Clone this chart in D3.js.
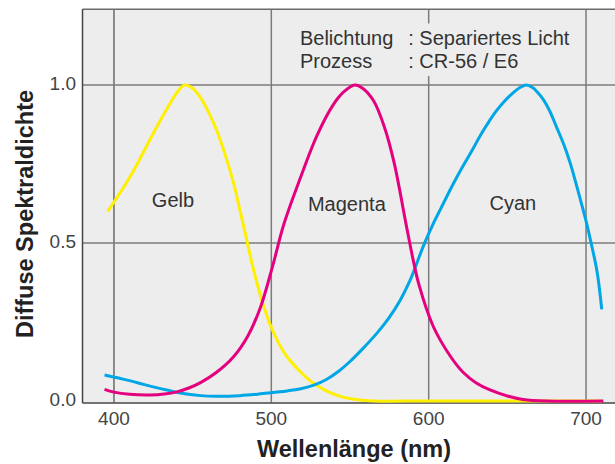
<!DOCTYPE html>
<html>
<head>
<meta charset="utf-8">
<script src="https://cdn.jsdelivr.net/npm/d3@7"></script>
<style>
  html, body { margin: 0; padding: 0; background: #fff; }
  svg { display: block; font-family: "Liberation Sans", Arial, Helvetica, sans-serif; }
</style>
</head>
<body>
<svg id="chart" width="615" height="464"></svg>
<script>
// Wavelength (nm) and diffuse spectral density for each dye layer
const gelbNm  = [396, 404, 412, 420, 428, 436, 441, 445, 450, 455, 460, 465, 470, 476, 480, 483, 488, 493, 499, 505, 510, 518, 525, 535, 545, 555, 565, 600, 650, 710];
const gelbVal = [0.60, 0.66, 0.725, 0.80, 0.875, 0.945, 0.983, 1.0, 0.99, 0.96, 0.915, 0.86, 0.79, 0.69, 0.605, 0.54, 0.43, 0.335, 0.245, 0.18, 0.14, 0.095, 0.063, 0.032, 0.013, 0.004, 0.0, 0.0, 0.0, 0.0];

const magentaNm  = [394, 400, 410, 423, 432, 440, 448, 455, 465, 476, 485, 493, 501, 508, 518, 529, 539, 546, 553, 558, 565, 572, 578, 586, 590, 594, 603, 614, 622, 630, 639, 650, 660, 675, 711];
const magentaVal = [0.037, 0.028, 0.021, 0.019, 0.022, 0.029, 0.042, 0.058, 0.09, 0.14, 0.205, 0.295, 0.43, 0.56, 0.70, 0.84, 0.935, 0.978, 1.0, 0.99, 0.95, 0.865, 0.755, 0.55, 0.45, 0.365, 0.235, 0.14, 0.09, 0.058, 0.035, 0.016, 0.005, 0.0, 0.0];

const cyanNm  = [394, 405, 415, 423, 435, 445, 455, 465, 480, 492, 501, 510, 518, 527, 535, 543, 550, 558, 567, 575, 582, 588, 592, 597, 603, 608, 612, 617, 622, 628, 633, 638, 643, 648, 654, 658, 662, 666, 669, 673, 677, 681, 686, 690, 693, 696, 700, 703, 707, 710];
const cyanVal = [0.082, 0.070, 0.058, 0.047, 0.033, 0.023, 0.017, 0.015, 0.017, 0.022, 0.027, 0.032, 0.038, 0.050, 0.068, 0.095, 0.125, 0.165, 0.214, 0.265, 0.32, 0.38, 0.43, 0.495, 0.562, 0.612, 0.652, 0.70, 0.745, 0.797, 0.842, 0.882, 0.918, 0.948, 0.977, 0.992, 1.0, 0.992, 0.978, 0.953, 0.917, 0.87, 0.81, 0.752, 0.70, 0.645, 0.57, 0.505, 0.41, 0.29];

const xTicks = [400, 500, 600, 700];
const yTicks = [0.0, 0.5, 1.0];
const seriesNames = ["Gelb", "Magenta", "Cyan"];
const infoKeys = ["Belichtung", "Prozess"];
const infoValues = [": Separiertes Licht", ": CR-56 / E6"];
const xTitle = "Wellenlänge (nm)";
const yTitle = "Diffuse Spektraldichte";

const colors = { Gelb: "#FFEF00", Magenta: "#E4007F", Cyan: "#00A6E6" };
// label anchor (nm, density) for each curve's name
const labelAt = { Gelb: [437.5, 0.614], Magenta: [548, 0.602], Cyan: [653.5, 0.604] };

const svg = d3.select("#chart");
const x = d3.scaleLinear().domain([380, 720]).range([82.5, 617.5]);
const y = d3.scaleLinear().domain([0, 1.24]).range([401, 9.2]);

const bg = "#ECEDEC";

// plot background
svg.append("rect")
  .attr("x", x(380)).attr("y", y(1.24))
  .attr("width", 615 - x(380)).attr("height", y(0) - y(1.24) + 1.5)
  .attr("fill", bg);

// vertical grid
svg.append("g").selectAll("line").data(xTicks).join("line")
  .attr("x1", d => x(d)).attr("x2", d => x(d))
  .attr("y1", y(1.24)).attr("y2", y(0) + 1.5)
  .attr("stroke", d => d === 400 ? "#2a2a2a" : "#7b7b7b")
  .attr("stroke-width", d => d === 400 ? 1 : 1.5);

// horizontal grid
svg.append("g").selectAll("line").data(yTicks.filter(d => d > 0)).join("line")
  .attr("x1", x(380)).attr("x2", 615)
  .attr("y1", d => y(d)).attr("y2", d => y(d))
  .attr("stroke", "#7b7b7b").attr("stroke-width", 1.5);

// info box (background hides the gridline behind the text)
svg.append("rect")
  .attr("x", x(513)).attr("y", y(1.195))
  .attr("width", x(692) - x(513)).attr("height", y(1.0) - y(1.195) - 9)
  .attr("fill", bg);

const info = svg.append("g").attr("fill", "#333").style("font-size", "20px");
infoKeys.forEach((k, i) => {
  const yy = y([1.126, 1.053][i]);
  info.append("text").attr("x", x(518.2)).attr("y", yy).text(k);
  info.append("text").attr("x", x(587)).attr("y", yy).text(infoValues[i]);
});

// frame
svg.append("line").attr("x1", x(380)).attr("x2", 615).attr("y1", y(1.24)).attr("y2", y(1.24))
  .attr("stroke", "#6a6a6a").attr("stroke-width", 1.5);
svg.append("line").attr("x1", x(380)).attr("x2", x(380)).attr("y1", y(1.24)).attr("y2", y(0) + 2)
  .attr("stroke", "#444").attr("stroke-width", 1.5);
svg.append("line").attr("x1", x(380)).attr("x2", 615).attr("y1", y(0) + 2).attr("y2", y(0) + 2)
  .attr("stroke", "#444").attr("stroke-width", 1.5);

// curves
const line = d3.line()
  .x(d => x(d[0])).y(d => y(Math.max(0, d[1])))
  .curve(d3.curveCatmullRom.alpha(0.5));

const series = [
  { name: "Gelb", nm: gelbNm, val: gelbVal },
  { name: "Cyan", nm: cyanNm, val: cyanVal },
  { name: "Magenta", nm: magentaNm, val: magentaVal }
];

svg.append("g").selectAll("path").data(series).join("path")
  .attr("d", s => line(s.nm.map((n, i) => [n, s.val[i]])))
  .attr("fill", "none")
  .attr("stroke", s => colors[s.name])
  .attr("stroke-width", 3)
  .attr("stroke-linejoin", "round");

// series labels
svg.append("g").selectAll("text").data(seriesNames).join("text")
  .attr("x", d => x(labelAt[d][0])).attr("y", d => y(labelAt[d][1]))
  .attr("text-anchor", "middle")
  .attr("fill", "#333")
  .style("font-size", "20px")
  .text(d => d);

// tick labels
svg.append("g").selectAll("text").data(xTicks).join("text")
  .attr("x", d => x(d)).attr("y", y(0) + 24)
  .attr("text-anchor", "middle").attr("fill", "#444")
  .style("font-size", "19px")
  .text(d => d);

svg.append("g").selectAll("text").data(yTicks).join("text")
  .attr("x", 76).attr("y", d => y(d) + 5)
  .attr("text-anchor", "end").attr("fill", "#444")
  .style("font-size", "19px")
  .text(d3.format(".1f"));

// axis titles
svg.append("text")
  .attr("x", 354).attr("y", 457)
  .attr("text-anchor", "middle").attr("fill", "#222")
  .style("font-size", "23.5px").style("font-weight", "bold")
  .text(xTitle);

svg.append("text")
  .attr("transform", "translate(33,214) rotate(-90)")
  .attr("text-anchor", "middle").attr("fill", "#222")
  .style("font-size", "23.5px").style("font-weight", "bold")
  .text(yTitle);
</script>
</body>
</html>
